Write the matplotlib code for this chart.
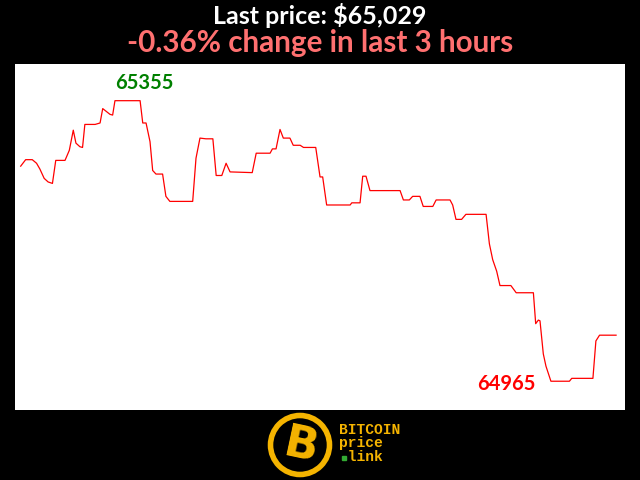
import matplotlib
matplotlib.use('Agg')
import matplotlib.pyplot as plt
from matplotlib.patches import Circle

plt.rcParams['font.family'] = ['Lato', 'DejaVu Sans']

# price path over the last 3 hours (minutes from start, USD)
minutes = [0, 1.5, 3.5, 4.8, 5.8, 7.1, 8.3, 9.6, 10.6, 13.4, 14.7, 15.9, 16.7, 17.9,
           18.7, 19.4, 22.5, 24, 24.8, 27, 27.8, 28.5, 36.1, 36.9, 37.9, 39.1, 39.9,
           40.9, 42.9, 43.9, 45.1, 52, 53, 54.2, 56, 58.1, 59.1, 60.8, 62.1, 63.3, 70,
           71.2, 75.4, 76.1, 77.2, 78.4, 79.4, 81.4, 82.4, 84.5, 85.5, 89.2, 90.5, 91.3,
           92.5, 99.6, 100.1, 102.6, 103.4, 104.4, 105.6, 114.7, 115.7, 117.5, 118.5,
           120.7, 121.7, 124.6, 125.6, 129.8, 130.6, 131.6, 133.3, 134.6, 140.7, 141.7,
           142.7, 143.9, 144.9, 148.2, 149.8, 155, 155.7, 156.5, 157, 158, 158.8, 160.3,
           165.9, 166.6, 173, 173.9, 175, 180]
prices = [65264, 65273, 65273, 65268, 65260, 65247, 65242, 65240, 65272, 65272, 65286,
          65314, 65296, 65291, 65290, 65322, 65322, 65324, 65344, 65336, 65335, 65355,
          65355, 65324, 65324, 65298, 65258, 65253, 65253, 65222, 65215, 65215, 65275,
          65303, 65302, 65302, 65251, 65251, 65268, 65256, 65255, 65282, 65282, 65288,
          65288, 65315, 65303, 65303, 65293, 65293, 65290, 65290, 65249, 65249, 65210,
          65210, 65213, 65213, 65250, 65250, 65230, 65230, 65217, 65217, 65222, 65222,
          65208, 65208, 65217, 65217, 65210, 65190, 65190, 65197, 65197, 65156, 65134,
          65118, 65098, 65098, 65088, 65088, 65045, 65050, 65049, 65003, 64986, 64965,
          64965, 64969, 64969, 65021, 65029, 65029]

last = prices[-1]
change = (last / prices[0] - 1) * 100
hi = max(prices)
lo = min(prices)
hi_t = minutes[prices.index(hi)]
lo_t = minutes[prices.index(lo)]

fig = plt.figure(figsize=(6.4, 4.8), dpi=100, facecolor='black')
ax = fig.add_axes([15 / 640, 70 / 480, 610 / 640, 346 / 480])
ax.set_facecolor('white')
ax.plot(minutes, prices, color='red', linewidth=0.9)
ax.set_xlim(-1.72, 182.7)
ax.set_ylim(64925, 65406)
ax.set_xticks([])
ax.set_yticks([])
for s in ax.spines.values():
    s.set_visible(False)

# high / low labels
ax.annotate(str(hi), (hi_t, hi), xytext=(0, 5.5), textcoords='offset points',
            ha='left', va='bottom', color='green', fontsize=14.5, fontweight='bold')
ax.annotate(str(lo), (lo_t, lo), xytext=(-11, -2), textcoords='offset points',
            ha='right', va='center', color='red', fontsize=14.5, fontweight='bold')

# titles
fig.text(0.5, 1 - 16 / 480, f'Last price: ${last:,}', color='white', ha='center',
         va='center', fontsize=18, fontweight='bold')
fig.text(0.5, 1 - 43 / 480, f'{change:.2f}% change in last 3 hours', color='#ff7070',
         ha='center', va='center', fontsize=21.3, fontweight='bold')

# logo
lax = fig.add_axes([0, 0, 1, 70 / 480])
lax.set_xlim(0, 640)
lax.set_ylim(70, 0)
lax.axis('off')
lax.add_patch(Circle((300, 35), 29.5, facecolor='black', edgecolor='#f5b400', linewidth=4))
lax.text(301, 36, 'B', color='#f5b400', fontsize=32, fontweight='bold', ha='center',
         va='center', rotation=-12, family='DejaVu Sans')
for txt, y in [('BITCOIN', 20), ('price', 33), (' link', 47)]:
    lax.text(339, y, txt, color='#f5b400', fontsize=10.5, fontweight='bold',
             family='Liberation Mono', va='center')
lax.plot(344, 47.5, marker='s', color='#33aa33', markersize=3)

fig.savefig('out.png', dpi=100, facecolor='black')
